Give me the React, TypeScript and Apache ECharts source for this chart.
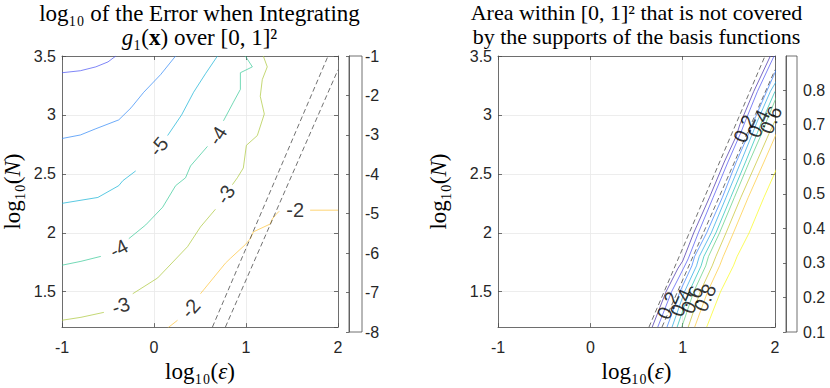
import React, { useEffect, useRef } from "react";
import * as echarts from "echarts";

// ---------- data ----------
const xTickValues = [-1, 0, 1, 2];
const errorColorbarRange = [-8, -1];
const coverageColorbarRange = [0.1, 0.899];

const errorLevels = [-7, -6, -5, -4, -3, -2];
const errorColors = ["#4852f4", "#2e87f7", "#12b1d6", "#37c897", "#abc739", "#fec338"];
// each level: list of segments (broken where clabel text sits)
const errorSegments: number[][][][] = [
  [[[-1, 3.358], [-0.8, 3.375], [-0.632, 3.408], [-0.5, 3.45], [-0.415, 3.5]]],
  [[[-1, 2.8], [-0.8, 2.83], [-0.632, 2.883], [-0.383, 2.958], [-0.25, 3.06], [-0.112, 3.192], [0.072, 3.342], [0.235, 3.5]]],
  [
    [[-1, 2.25], [-0.61, 2.3], [-0.383, 2.4], [-0.339, 2.442], [-0.199, 2.525]],
    [[0.148, 2.825], [0.3, 3.0], [0.43, 3.192], [0.56, 3.35], [0.69, 3.5]],
  ],
  [
    [[0.993, 3.5], [1.069, 3.408], [0.939, 3.358], [0.939, 3.217], [0.863, 3.108], [0.755, 2.95]],
    [[0.581, 2.733], [0.397, 2.567], [0.343, 2.467], [0.235, 2.4], [0.094, 2.217], [-0.09, 2.067], [-0.274, 1.95]],
    [[-0.578, 1.8], [-0.794, 1.758], [-1, 1.725]],
  ],
  [
    [[1.188, 3.5], [1.231, 3.408], [1.177, 3.3], [1.155, 3.158], [1.199, 3.008], [1.123, 2.825], [1.004, 2.742], [0.971, 2.55], [0.906, 2.467], [0.852, 2.408]],
    [[0.668, 2.2], [0.505, 2.05], [0.365, 1.883], [0.04, 1.617], [-0.231, 1.483]],
    [[-0.545, 1.325], [-0.794, 1.283], [-1, 1.258]],
  ],
  [
    [[2.0, 2.192], [1.697, 2.192]],
    [[1.361, 2.183], [1.329, 2.158], [1.285, 2.117], [1.264, 2.075], [1.08, 2.008], [1.047, 1.95], [0.993, 1.9], [0.83, 1.783], [0.776, 1.742], [0.505, 1.483]],
    [[0.256, 1.258], [0.148, 1.192]],
  ],
];
// [log10 eps, log10 N, text, rotation]
const errorLabels: [number, number, string, number][] = [
  [0.051, 2.733, "-5", 50],
  [0.69, 2.825, "-4", 58],
  [-0.383, 1.867, "-4", 28],
  [0.776, 2.325, "-3", 58],
  [-0.361, 1.383, "-3", 18],
  [1.534, 2.192, "-2", 0],
  [0.397, 1.358, "-2", 48],
];

const coverageLevels = [0.1, 0.2, 0.3, 0.4, 0.5, 0.6, 0.7, 0.8, 0.9];
const coverageColors = ["#3e26a8", "#484df0", "#327cfc", "#20a5e2", "#19bfb6", "#57cc7a", "#c5c22a", "#fec934", "#f9fb15"];
const coverageLines: number[][][] = [
  [[0.67, 1.2], [0.82, 1.5], [0.95, 1.7], [1.0, 1.76], [1.12, 2.0], [1.29, 2.3], [1.45, 2.6], [1.58, 2.82], [1.62, 2.92], [1.77, 3.2], [1.95, 3.5]],
  [[0.73, 1.2], [0.88, 1.5], [1.01, 1.7], [1.06, 1.78], [1.17, 2.0], [1.33, 2.3], [1.49, 2.6], [1.63, 2.85], [1.68, 2.95], [1.81, 3.2], [1.99, 3.5]],
  [[0.83, 1.2], [0.97, 1.5], [1.1, 1.72], [1.13, 1.8], [1.26, 2.0], [1.43, 2.3], [1.58, 2.6], [1.72, 2.85], [1.76, 2.93], [1.91, 3.2], [2.08, 3.5]],
  [[0.885, 1.2], [1.02, 1.5], [1.15, 1.72], [1.18, 1.8], [1.31, 2.0], [1.47, 2.3], [1.63, 2.6], [1.76, 2.85], [1.8, 2.93], [1.95, 3.2], [2.1, 3.4]],
  [[0.94, 1.2], [1.07, 1.5], [1.2, 1.72], [1.23, 1.8], [1.36, 2.0], [1.52, 2.3], [1.68, 2.6], [1.81, 2.85], [1.85, 2.93], [2.0, 3.2]],
  [[0.99, 1.2], [1.12, 1.5], [1.25, 1.72], [1.28, 1.8], [1.4, 2.0], [1.56, 2.3], [1.72, 2.6], [1.86, 2.85], [1.9, 2.93], [2.04, 3.2]],
  [[1.06, 1.2], [1.19, 1.5], [1.32, 1.72], [1.36, 1.8], [1.47, 2.0], [1.63, 2.3], [1.8, 2.6], [1.94, 2.85], [2.0, 2.95]],
  [[1.13, 1.2], [1.27, 1.5], [1.4, 1.72], [1.44, 1.8], [1.55, 2.0], [1.71, 2.3], [1.88, 2.6], [2.02, 2.85]],
  [[1.26, 1.2], [1.41, 1.5], [1.55, 1.72], [1.59, 1.8], [1.72, 2.0], [1.88, 2.3], [2.05, 2.6]],
];
const coverageLabels: [number, number, string, number][] = [
  [1.67, 2.883, "0.2", 66],
  [1.82, 2.925, "0.4", 66],
  [1.955, 2.958, "0.6", 66],
  [0.841, 1.383, "0.2", 66],
  [0.982, 1.408, "0.4", 66],
  [1.101, 1.433, "0.6", 66],
  [1.242, 1.45, "0.8", 66],
];

const dashedA = [[0.635, 1.2], [1.892, 3.5]];
const dashedB = [[0.776, 1.2], [2.0, 3.383]];

// ---------- styling ----------
const AX = "#4d4d4d";
const SANS = "Liberation Sans";
const SERIF = "Liberation Serif";
const SERIF_SIZE = 23;
const TICK_SIZE = 16;

const richSerif = {
  i: { fontFamily: SERIF, fontStyle: "italic", fontSize: SERIF_SIZE, color: "#000" },
  b: { fontFamily: SERIF, fontWeight: "bold", fontSize: SERIF_SIZE, color: "#000" },
  n: { fontFamily: SERIF, fontSize: SERIF_SIZE, color: "#000" },
};
const richTitle = {
  i: { fontFamily: SERIF, fontStyle: "italic", fontSize: SERIF_SIZE, lineHeight: 24, color: "#000" },
  b: { fontFamily: SERIF, fontWeight: "bold", fontSize: SERIF_SIZE, lineHeight: 24, color: "#000" },
  n: { fontFamily: SERIF, fontSize: SERIF_SIZE, lineHeight: 24, color: "#000" },
};

function xAxisFor(gridIndex: number, position: string, main: boolean) {
  return {
    type: "value",
    gridIndex,
    position,
    min: xTickValues[0],
    max: xTickValues[xTickValues.length - 1],
    interval: 1,
    axisLine: { show: true, onZero: false, lineStyle: { color: AX, width: 0.8 } },
    axisTick: { show: true, inside: true, length: 4, lineStyle: { color: AX, width: 0.8 } },
    axisLabel: { show: main, fontFamily: SANS, fontSize: TICK_SIZE, color: "#262626", margin: 12 },
    splitLine: { show: main, lineStyle: { color: "#e8e8e8", width: 0.8 } },
    name: main ? "{n|log₁₀(}{i|ε}{n|)}" : "",
    nameLocation: "middle",
    nameGap: 24,
    nameTextStyle: { fontFamily: SERIF, fontSize: SERIF_SIZE, color: "#000", rich: richSerif },
  };
}

function yAxisFor(gridIndex: number, position: string, main: boolean, nameGap: number) {
  return {
    type: "value",
    gridIndex,
    position,
    min: 1.2,
    max: 3.5,
    splitNumber: 5,
    axisLine: { show: true, onZero: false, lineStyle: { color: AX, width: 0.8 } },
    axisTick: { show: true, inside: true, length: 4, lineStyle: { color: AX, width: 0.8 } },
    axisLabel: { show: main, showMinLabel: false, fontFamily: SANS, fontSize: TICK_SIZE, color: "#262626", margin: 6 },
    splitLine: { show: main, lineStyle: { color: "#e8e8e8", width: 0.8 } },
    name: main ? "{n|log₁₀(}{i|N}{n|)}" : "",
    nameLocation: "middle",
    nameRotate: 90,
    nameGap,
    nameTextStyle: { fontFamily: SERIF, fontSize: SERIF_SIZE, color: "#000", rich: richSerif },
  };
}

function colorbarY(gridIndex: number, range: number[], interval: number, digits: number, margin: number) {
  return {
    type: "value",
    gridIndex,
    position: "right",
    min: range[0],
    max: range[1],
    interval,
    axisLine: { show: true, lineStyle: { color: AX, width: 0.8 } },
    axisTick: { show: true, inside: true, length: 3, lineStyle: { color: AX, width: 0.8 } },
    axisLabel: {
      fontFamily: SANS,
      fontSize: TICK_SIZE,
      color: "#262626",
      margin,
      showMaxLabel: digits === 0,
      formatter: (v: number) => (digits === 0 ? String(Math.round(v)) : v.toFixed(digits)),
    },
    splitLine: { show: false },
  };
}

function hiddenX(gridIndex: number) {
  return { type: "value", gridIndex, min: 0, max: 1, show: false };
}

function lineSeries(xi: number, yi: number, data: number[][], color: string, width: number, dashed: boolean, z: number) {
  return {
    type: "line",
    xAxisIndex: xi,
    yAxisIndex: yi,
    data,
    symbol: "none",
    showSymbol: false,
    silent: true,
    clip: true,
    z,
    lineStyle: { color, width, type: dashed ? [5, 3] : "solid" },
  };
}

function labelSeries(xi: number, yi: number, labels: [number, number, string, number][]) {
  return {
    type: "scatter",
    xAxisIndex: xi,
    yAxisIndex: yi,
    symbolSize: 1,
    silent: true,
    z: 5,
    itemStyle: { color: "rgba(0,0,0,0)" },
    label: { show: true, position: "inside", formatter: "{b}", fontFamily: SANS, fontSize: 20, color: "#000" },
    data: labels.map(([x, y, t, r]) => ({ name: t, value: [x, y], label: { rotate: r } })),
  };
}

export default function App() {
  const ref = useRef<HTMLDivElement>(null);
  useEffect(() => {
    const chart = echarts.init(ref.current!, null, { renderer: "svg" });
    const series: any[] = [];
    errorSegments.forEach((segs, i) =>
      segs.forEach((seg) => series.push(lineSeries(0, 0, seg, errorColors[i], 0.7, false, 3)))
    );
    series.push(lineSeries(0, 0, dashedA, "#333", 0.7, true, 4));
    series.push(lineSeries(0, 0, dashedB, "#333", 0.7, true, 4));
    series.push(labelSeries(0, 0, errorLabels));

    coverageLines.forEach((ln, i) => series.push(lineSeries(2, 2, ln, coverageColors[i], 0.7, false, 3)));
    series.push(lineSeries(2, 2, dashedA, "#333", 0.7, true, 4));
    series.push(lineSeries(2, 2, dashedB, "#333", 0.7, true, 4));
    series.push(labelSeries(2, 2, coverageLabels));

    const option: any = {
      animation: false,
      backgroundColor: "#fff",
      grid: [
        { left: 61, top: 56, width: 277, height: 276 },
        { left: 498, top: 56, width: 277, height: 276 },
        { left: 349, top: 56, width: 13, height: 276, show: true, borderColor: AX, borderWidth: 0.8, backgroundColor: "#fff" },
        { left: 786, top: 56, width: 11, height: 276, show: true, borderColor: AX, borderWidth: 0.8, backgroundColor: "#fff" },
      ],
      xAxis: [
        xAxisFor(0, "bottom", true),
        xAxisFor(0, "top", false),
        xAxisFor(1, "bottom", true),
        xAxisFor(1, "top", false),
        hiddenX(2),
        hiddenX(3),
      ],
      yAxis: [
        yAxisFor(0, "left", true, 38),
        yAxisFor(0, "right", false, 0),
        yAxisFor(1, "left", true, 48),
        yAxisFor(1, "right", false, 0),
        colorbarY(2, errorColorbarRange, 1, 0, 3),
        colorbarY(3, coverageColorbarRange, 0.1, 1, 6),
      ],
      graphic: [
        {
          type: "text",
          x: 199.5,
          y: 25,
          style: {
            text: "{n|log₁₀ of the Error when Integrating}\n{i|g}{n|₁(}{b|x}{n|) over [0, 1]²}",
            fontFamily: SERIF,
            fontSize: SERIF_SIZE,
            lineHeight: 24,
            fill: "#000",
            align: "center",
            verticalAlign: "middle",
            rich: richTitle,
          },
        },
        {
          type: "text",
          x: 636.5,
          y: 24,
          style: {
            text: "Area within [0, 1]² that is not covered\nby the supports of the basis functions",
            fontFamily: SERIF,
            fontSize: 22,
            lineHeight: 24,
            fill: "#000",
            align: "center",
            verticalAlign: "middle",
          },
        },
      ],
      series,
    };
    chart.setOption(option);
    return () => chart.dispose();
  }, []);
  return (
    <div
      ref={ref}
      style={{ position: "fixed", left: 0, top: 0, width: 830, height: 388, background: "#fff" }}
    />
  );
}
